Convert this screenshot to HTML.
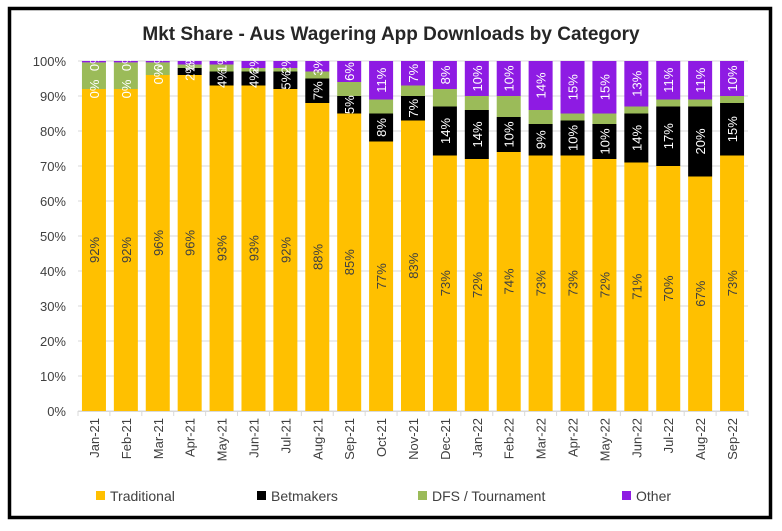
<!DOCTYPE html>
<html><head><meta charset="utf-8"><style>
html,body{margin:0;padding:0;background:#fff;}
body{width:782px;height:526px;overflow:hidden;font-family:"Liberation Sans",sans-serif;}
</style></head><body>
<svg id="chart" width="782" height="526" xmlns="http://www.w3.org/2000/svg" font-family="Liberation Sans, sans-serif">
<rect x="9.5" y="8.5" width="761" height="509" fill="#fff" stroke="#000" stroke-width="3.5"/>
<text x="391" y="40" text-anchor="middle" font-size="19" font-weight="bold" fill="#262626">Mkt Share - Aus Wagering App Downloads by Category</text>
<g id="grid"></g><g id="bars"></g><g id="labels"></g><g id="axes"></g>
<g id="legend"></g>
</svg>
<script>
const labelsX=["Jan-21","Feb-21","Mar-21","Apr-21","May-21","Jun-21","Jul-21","Aug-21","Sep-21","Oct-21","Nov-21","Dec-21","Jan-22","Feb-22","Mar-22","Apr-22","May-22","Jun-22","Jul-22","Aug-22","Sep-22"];
const trad=[92,92,96,96,93,93,92,88,85,77,83,73,72,74,73,73,72,71,70,67,73];
const bet=[0,0,0,2,4,4,5,7,5,8,7,14,14,10,9,10,10,14,17,20,15];
const dfsV=[7.6,7.6,3.6,1,2,1,1,2,4,4,3,5,4,6,4,2,3,2,2,2,2];
const oth=[0.4,0.4,0.4,1,1,2,2,3,6,11,7,8,10,10,14,15,15,13,11,11,10];
const yTicks=[0,10,20,30,40,50,60,70,80,90,100];
const seriesNames=["Traditional","Betmakers","DFS / Tournament","Other"];
const colors=["#FFC000","#000000","#9BBB59","#8E1BE3"];
const labelColors=["#404040","#ffffff","#ffffff","#ffffff"];
const NS="http://www.w3.org/2000/svg";
const X0=78,X1=748,Y0=411,Y1=61;
const n=labelsX.length;
const step=(X1-X0)/n;
const bw=24;
function xC(i){return X0+step*(i+0.5);}
function yv(v){return Y0-(Y0-Y1)*v/100;}
function mk(tag,attrs,parent){const e=document.createElementNS(NS,tag);for(const k in attrs)e.setAttribute(k,attrs[k]);parent.appendChild(e);return e;}
const grid=document.getElementById('grid'),bars=document.getElementById('bars'),labs=document.getElementById('labels'),axes=document.getElementById('axes'),leg=document.getElementById('legend');
yTicks.forEach(t=>{
 const l=mk('line',{x1:X0,x2:X1,y1:yv(t),y2:yv(t),stroke:'#d9d9d9','stroke-width':1},grid);
 
 
 const tx=mk('text',{x:66,y:yv(t)+5,'text-anchor':'end','font-size':13,fill:'#404040'},axes);
 tx.textContent=t+'%';
 
 
});
const series=[trad,bet,dfsV,oth];
const segNames=['traditional','betmakers','dfs','other'];
for(let i=0;i<n;i++){
 let base=0;
 for(let s=0;s<4;s++){
  const v=series[s][i];
  const r=mk('rect',{x:xC(i)-bw/2,y:yv(base+v),width:bw,height:Math.max(0,yv(base)-yv(base+v)),fill:colors[s]},bars);
  
  
  if(s!==2){
   const cy=(yv(base)+yv(base+v))/2;
   const t=mk('text',{x:0,y:0,'text-anchor':'middle','font-size':13,fill:labelColors[s],transform:`translate(${xC(i)+5},${cy}) rotate(-90)`},labs);
   t.textContent=Math.round(v)+'%';
   
   
  }
  base+=v;
 }
 const xl=mk('text',{x:0,y:0,'text-anchor':'end','font-size':13,fill:'#404040',transform:`translate(${xC(i)+5},${418}) rotate(-90)`},axes);
 xl.textContent=labelsX[i];
 
 
}
const ax=mk('line',{x1:X0,x2:X1,y1:Y0+0.5,y2:Y0+0.5,stroke:'#d9d9d9','stroke-width':1},axes);


for(let i=0;i<=n;i++){
 const tk=mk('line',{x1:X0+step*i,x2:X0+step*i,y1:Y0,y2:Y0+5,stroke:'#d9d9d9'},axes);
 
 
}
const legX=[96,257,418,622];
seriesNames.forEach((nm,k)=>{
 const r=mk('rect',{x:legX[k],y:491,width:9,height:9,fill:colors[k]},leg);
 
 
 const t=mk('text',{x:legX[k]+14,y:501,'font-size':14,fill:'#404040'},leg);
 t.textContent=nm;
 
 
});
</script>
</body></html>
